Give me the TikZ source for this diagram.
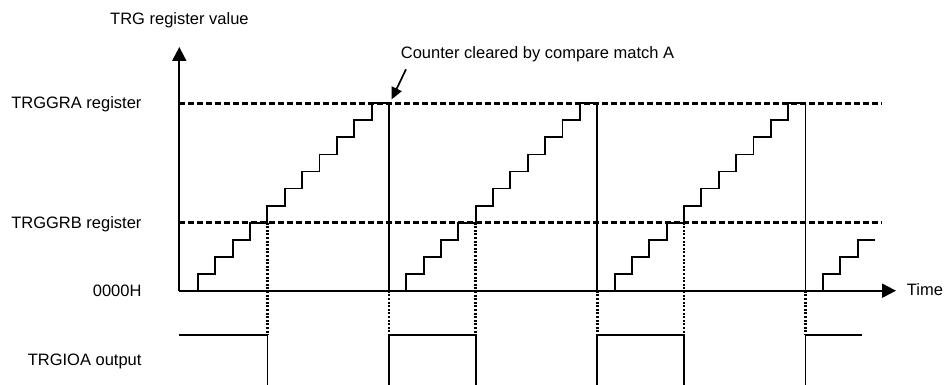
\documentclass[tikz,border=0pt]{standalone}
\usepackage{fontspec}
\setmainfont{Liberation Sans}
\usetikzlibrary{arrows.meta}
\begin{document}
\begin{tikzpicture}[x=1pt,y=-1pt,
  lbl/.style={inner sep=0pt, font=\fontsize{16.5}{19}\selectfont},
  axis/.style={line width=2pt},
  stair/.style={line width=1.9pt},
  level/.style={line width=2.5pt, dash pattern=on 6pt off 3pt},
  guide/.style={line width=2.8pt, dash pattern=on 2pt off 1.6pt},
  sig/.style={line width=1.6pt}]
\useasboundingbox (0,0) rectangle (944,385);
\def\Yz{290.7}
\def\YA{103.4}
\def\YB{222.6}
\def\YH{335}
\def\Ybot{386}
\def\h{17.03}
\def\w{17.36}
\def\X{179.3}
% axes
\coordinate (origin) at (\X,\Yz);
\coordinate (ytip) at (\X,47);
\coordinate (xtip) at (896,\Yz);
\draw[axis,-{Triangle[length=14pt,width=14pt]}] (origin) -- (ytip);
\draw[axis,-{Triangle[length=14pt,width=14pt]}] (origin) -- (xtip);
% compare levels
\draw[level] (\X,\YA) -- (881.7,\YA);
\draw[level] (\X,\YB) -- (881.7,\YB);
% full cycles
\foreach \k in {0,1,2}{
  \pgfmathsetmacro\c{180.6+208.3*\k}
  \draw[stair] (\c+\w,\Yz) \foreach \j in {1,...,11}{ -- (\c+\j*\w,\Yz-\j*\h) -- (\c+\j*\w+\w,\Yz-\j*\h)} -- (\c+12*\w,\Yz);
  \draw[guide] (\c+5*\w,\YB) -- (\c+5*\w,\YH);
  \draw[guide] (\c+12*\w,\Yz) -- (\c+12*\w,\YH);
}
% partial last cycle
\pgfmathsetmacro\c{180.6+208.3*3}
\draw[stair] (\c+\w,\Yz) -- (\c+\w,\Yz-\h) -- (\c+2*\w,\Yz-\h) -- (\c+2*\w,\Yz-2*\h) -- (\c+3*\w,\Yz-2*\h) -- (\c+3*\w,\Yz-3*\h) -- (875,\Yz-3*\h);
% output waveform
\draw[sig] (\X,\YH) -- (267.4,\YH) -- (267.4,\Ybot);
\draw[sig] (388.9,\Ybot) -- (388.9,\YH) -- (475.7,\YH) -- (475.7,\Ybot);
\draw[sig] (597.2,\Ybot) -- (597.2,\YH) -- (684.0,\YH) -- (684.0,\Ybot);
\draw[sig] (805.5,\Ybot) -- (805.5,\YH) -- (862.3,\YH);
% labels
\node[lbl,anchor=base west] (ylab) at (110,25) {TRG register value};
\node[lbl,anchor=base west] (clr) at (400.7,58.3) {Counter cleared by compare match A};
\coordinate (clrtip) at (391.5,99.5);
\draw[line width=1.7pt,-{Triangle[length=12pt,width=11pt]}] (406,69.3) -- (clrtip);
\node[lbl,anchor=base east] (la) at (141.7,109) {TRGGRA register};
\node[lbl,anchor=base east] (lb) at (141.7,228.3) {TRGGRB register};
\node[lbl,anchor=base east] (lz) at (141.7,296) {0000H};
\node[lbl,anchor=base east] (lo) at (141.7,365.7) {TRGIOA output};
\node[lbl,anchor=base west] (lt) at (906.7,295.5) {Time};
\end{tikzpicture}
\end{document}
